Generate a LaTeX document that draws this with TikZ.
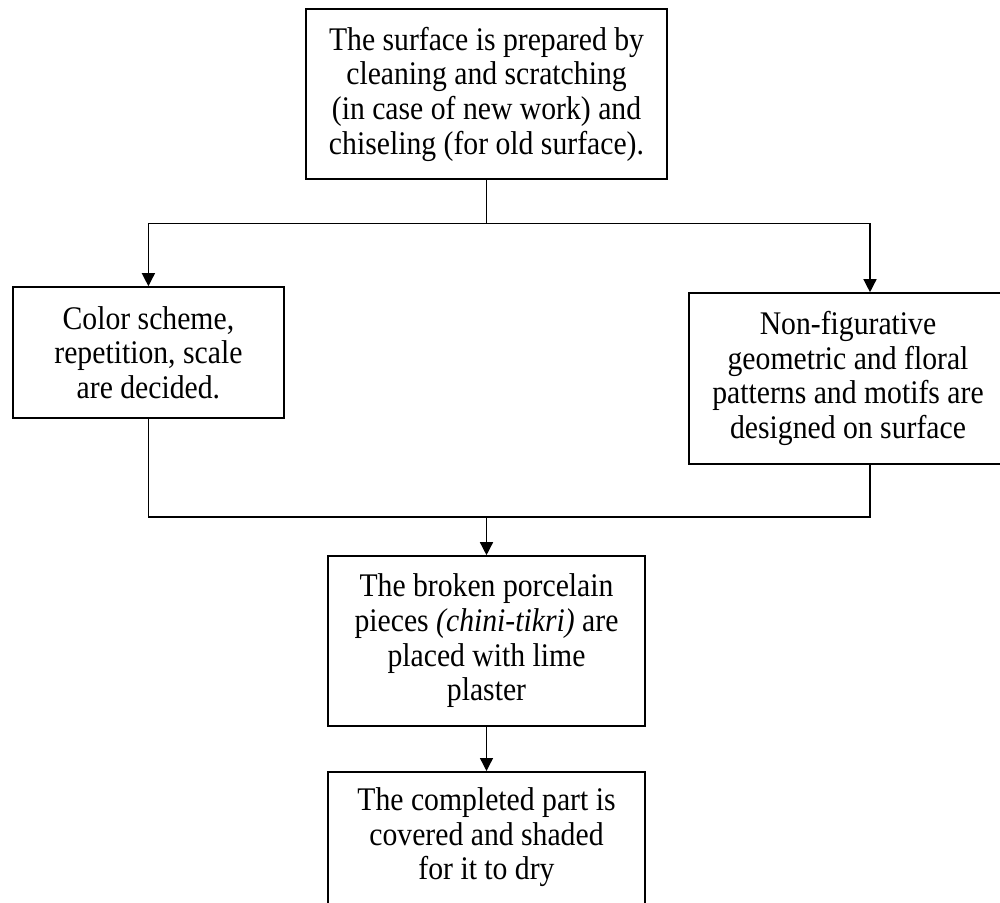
\documentclass[tikz,border=0pt]{standalone}
\usepackage{fontspec}
\setmainfont{Liberation Serif}[FakeStretch=0.9]
\usetikzlibrary{arrows.meta}
\begin{document}
\begin{tikzpicture}[x=0.5pt,y=-0.5pt,
  every node/.style={font=\fontsize{16.5pt}{17.35pt}\selectfont},
  box/.style={draw, line width=0.8pt, rectangle, align=center, inner sep=0pt},
  conn/.style={line width=0.7pt},
  arr/.style={conn, -{Triangle[width=6.5pt,length=6.5pt]}}]
\useasboundingbox (0,0) rectangle (1000,903);

% process steps
\node[box, minimum width=180.5pt, minimum height=85pt] (prep) at (486.5,94)
  {The surface is prepared by\\cleaning and scratching\\(in case of new work) and\\chiseling (for old surface).};
\node[box, minimum width=135.5pt, minimum height=65.5pt] (color) at (148.4,352.5)
  {Color scheme,\\repetition, scale\\are decided.};
\node[box, minimum width=159pt, minimum height=85.5pt] (design) at (848,378.5)
  {Non-figurative\\geometric and floral\\patterns and motifs are\\designed on surface};
\node[box, minimum width=158.5pt, minimum height=85pt] (place) at (486.5,641)
  {The broken porcelain\\pieces \textit{(chini-tikri)} are\\placed with lime\\plaster};
\node[box, anchor=north, minimum width=158.5pt, minimum height=85pt] (dry) at (486.5,771)
  {\parbox[c][85pt][t]{158pt}{\centering\vspace*{7.9pt}The completed part is\\covered and shaded\\for it to dry}};

% branch points
\coordinate (split) at (486.5,223.5);
\coordinate (merge) at (486.5,517);
\coordinate (rline) at (870,0);

% connectors
\draw[conn] (prep.south) -- (split);
\draw[arr] (split) -| (color.north);
\draw[arr] (split) -| (design.north -| rline);
\draw[conn] (color.south) |- (merge);
\draw[conn] (design.south -| rline) |- (merge);
\draw[arr] (merge) -- (place.north);
\draw[arr] (place.south) -- (dry.north);
\end{tikzpicture}
\end{document}
